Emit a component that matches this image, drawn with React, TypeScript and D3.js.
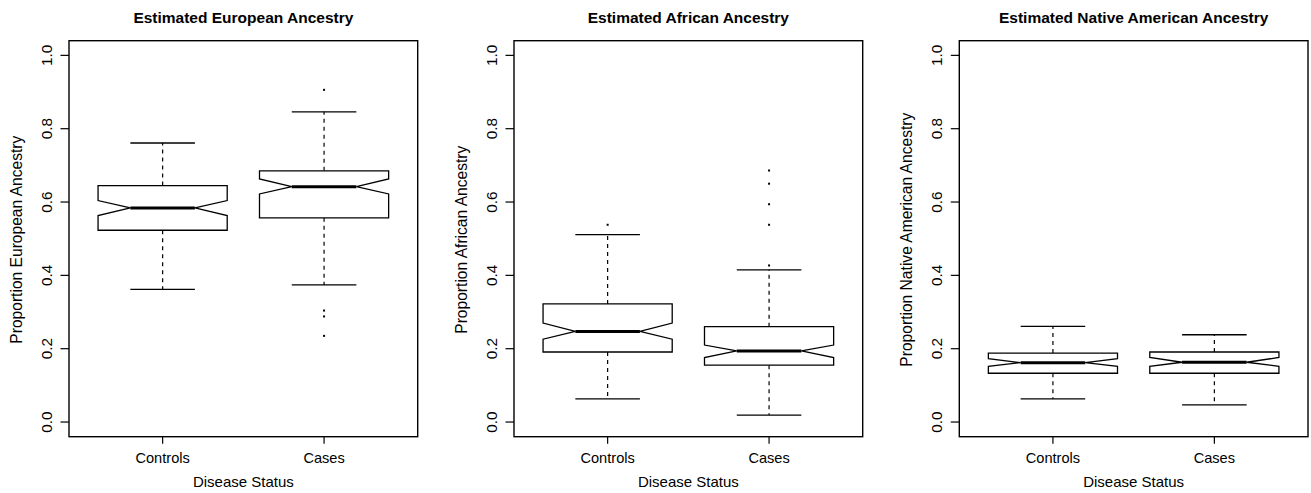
import React from "react";
import * as d3 from "d3";

// ---- data ----
const categories = ["Controls", "Cases"];
const yTicks = [0, 0.2, 0.4, 0.6, 0.8, 1.0];
const panelTitles = [
  "Estimated European Ancestry",
  "Estimated African Ancestry",
  "Estimated Native American Ancestry",
];
const yLabels = [
  "Proportion European Ancestry",
  "Proportion African Ancestry",
  "Proportion Native American Ancestry",
];
const xLabel = "Disease Status";

// stats: [lowerWhisker, q1, notchLow, median, notchHigh, q3, upperWhisker]
const europeanControls = [0.362, 0.523, 0.563, 0.584, 0.604, 0.645, 0.761];
const europeanCases = [0.374, 0.557, 0.622, 0.642, 0.663, 0.685, 0.846];
const africanControls = [0.063, 0.191, 0.226, 0.247, 0.27, 0.322, 0.511];
const africanCases = [0.019, 0.155, 0.176, 0.194, 0.21, 0.26, 0.415];
const nativeControls = [0.063, 0.133, 0.152, 0.162, 0.173, 0.188, 0.261];
const nativeCases = [0.047, 0.133, 0.152, 0.163, 0.176, 0.191, 0.238];

const europeanControlsOut: number[] = [];
const europeanCasesOut = [0.906, 0.304, 0.288, 0.235];
const africanControlsOut = [0.538];
const africanCasesOut = [0.686, 0.65, 0.594, 0.538, 0.427];
const nativeControlsOut: number[] = [];
const nativeCasesOut: number[] = [];

const panelStats = [
  [europeanControls, europeanCases],
  [africanControls, africanCases],
  [nativeControls, nativeCases],
];
const panelOutliers = [
  [europeanControlsOut, europeanCasesOut],
  [africanControlsOut, africanCasesOut],
  [nativeControlsOut, nativeCasesOut],
];

// ---- layout ----
const W = 1311;
const H = 493;
const plotLefts = [69, 514, 959.3];
const plotW = 348.7;
const plotTop = 40.7;
const plotBottom = 436.7;
const FONT = "'Liberation Sans', Arial, Helvetica, sans-serif";

function Panel({ idx }: { idx: number }) {
  const left = plotLefts[idx];
  const x = d3.scaleLinear().domain([0.42, 2.58]).range([left, left + plotW]);
  const y = d3.scaleLinear().domain([-0.04, 1.04]).range([plotBottom, plotTop]);
  const boxW = x(0.8) - x(0);
  const cx = left + plotW / 2;
  const stats = panelStats[idx];
  const outs = panelOutliers[idx];

  return (
    <g>
      <text
        x={cx}
        y={23}
        textAnchor="middle"
        fontFamily={FONT}
        fontWeight="bold"
        fontSize={15.5}
      >
        {panelTitles[idx]}
      </text>
      <rect
        x={left}
        y={plotTop}
        width={plotW}
        height={plotBottom - plotTop}
        fill="none"
        stroke="#000"
        strokeWidth={1.4}
      />
      {yTicks.map((t) => (
        <g key={t}>
          <line x1={left - 8.5} x2={left} y1={y(t)} y2={y(t)} stroke="#000" strokeWidth={1.2} />
          <text
            transform={`translate(${left - 17.5},${y(t)}) rotate(-90)`}
            textAnchor="middle"
            fontFamily={FONT}
            fontSize={15.3}
          >
            {t.toFixed(1)}
          </text>
        </g>
      ))}
      {categories.map((c, i) => (
        <g key={c}>
          <line
            x1={x(i + 1)}
            x2={x(i + 1)}
            y1={plotBottom}
            y2={plotBottom + 7}
            stroke="#000"
            strokeWidth={1.2}
          />
          <text
            x={x(i + 1)}
            y={463.3}
            textAnchor="middle"
            fontFamily={FONT}
            fontSize={14.6}
          >
            {c}
          </text>
        </g>
      ))}
      <text
        x={cx}
        y={486.7}
        textAnchor="middle"
        fontFamily={FONT}
        fontSize={15}
      >
        {xLabel}
      </text>
      <text
        transform={`translate(${left - 47.5},${(plotTop + plotBottom) / 2 + 1}) rotate(-90)`}
        textAnchor="middle"
        fontFamily={FONT}
        fontSize={15.6}
      >
        {yLabels[idx]}
      </text>
      {stats.map((s, i) => {
        const xc = x(i + 1);
        const [lw, q1, nlo, med, nhi, q3, uw] = s;
        const pts: [number, number][] = [
          [xc - boxW / 2, y(q1)],
          [xc - boxW / 2, y(nlo)],
          [xc - boxW / 4, y(med)],
          [xc - boxW / 2, y(nhi)],
          [xc - boxW / 2, y(q3)],
          [xc + boxW / 2, y(q3)],
          [xc + boxW / 2, y(nhi)],
          [xc + boxW / 4, y(med)],
          [xc + boxW / 2, y(nlo)],
          [xc + boxW / 2, y(q1)],
        ];
        const poly = d3.line()(pts) + "Z";
        return (
          <g key={i}>
            <line x1={xc} x2={xc} y1={y(q3)} y2={y(uw)} stroke="#000" strokeWidth={1.2} strokeDasharray="4,4" />
            <line x1={xc} x2={xc} y1={y(q1)} y2={y(lw)} stroke="#000" strokeWidth={1.2} strokeDasharray="4,4" />
            <line x1={xc - boxW / 4} x2={xc + boxW / 4} y1={y(uw)} y2={y(uw)} stroke="#000" strokeWidth={1.3} />
            <line x1={xc - boxW / 4} x2={xc + boxW / 4} y1={y(lw)} y2={y(lw)} stroke="#000" strokeWidth={1.3} />
            <path d={poly} fill="#fff" stroke="#000" strokeWidth={1.3} />
            <line x1={xc - boxW / 4} x2={xc + boxW / 4} y1={y(med)} y2={y(med)} stroke="#000" strokeWidth={3} />
            {outs[i].map((o, k) => (
              <rect key={k} x={xc - 1} y={y(o) - 1} width={2} height={2} fill="#000" />
            ))}
          </g>
        );
      })}
    </g>
  );
}

export default function App() {
  return (
    <svg
      width={W}
      height={H}
      style={{ position: "absolute", left: 0, top: 0, background: "#fff" }}
    >
      <rect width={W} height={H} fill="#fff" />
      {[0, 1, 2].map((i) => (
        <Panel key={i} idx={i} />
      ))}
    </svg>
  );
}
